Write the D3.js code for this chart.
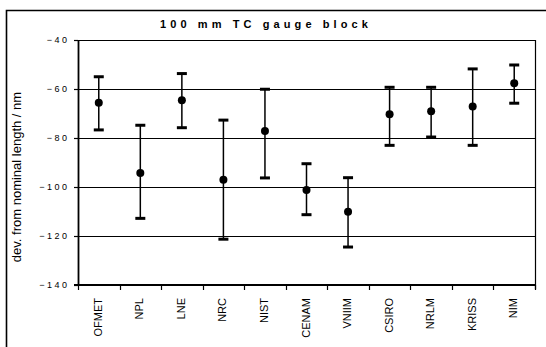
<!DOCTYPE html>
<html>
<head>
<meta charset="UTF-8">
<title>100 mm TC gauge block</title>
<script src="https://cdnjs.cloudflare.com/ajax/libs/d3/7.8.5/d3.min.js"></script>
<style>
    body { margin: 0; background: #fff; }
    text { font-family: Arial, "Liberation Sans", sans-serif; fill: #000; }
    .ylab text { font-size: 9px; letter-spacing: 2.5px; }
    .xlab { font-size: 11px; }
    .title { font-size: 11px; font-weight: bold; letter-spacing: 4.1px; }
    .ytitle { font-size: 13px; }
</style>
</head>
<body>
<div id="chart"></div>
<script>
    // labs and readings (nm), with the ends of each bar
    var labs = ["OFMET", "NPL", "LNE", "NRC", "NIST", "CENAM", "VNIIM", "CSIRO", "NRLM", "KRISS", "NIM"];
    var values = [-65.6, -94.3, -64.6, -97.0, -77.1, -101.2, -110.1, -70.3, -69.1, -67.1, -57.7];
    var upper = [-55.0, -74.8, -53.7, -72.7, -60.1, -90.5, -96.2, -59.3, -59.3, -51.8, -50.2];
    var lower = [-76.7, -112.8, -75.8, -121.3, -96.3, -111.3, -124.5, -83.0, -79.6, -83.0, -65.8];
    var yticks = [-140, -120, -100, -80, -60, -40];
    var grid = [-120, -100, -80, -60];

    var width = 546, height = 347;
    var pl = 78, pr = 535, pt = 40, pb = 285;

    var svg = d3.select("#chart").append("svg")
        .attr("width", width).attr("height", height);

    var x = d3.scaleBand().domain(labs).range([pl, pr]).padding(0);
    var y = d3.scaleLinear().domain([-140, -40]).range([pb, pt]);

    // outer frame (only top and left show)
    svg.append("path")
        .attr("d", "M6.5," + height + " V10.5 H" + width)
        .attr("fill", "none").attr("stroke", "#000").attr("stroke-width", 1.6);

    // gridlines
    svg.selectAll(".grid").data(grid).enter().append("line")
        .attr("class", "grid")
        .attr("x1", pl).attr("x2", pr)
        .attr("y1", function (d) { return Math.round(y(d)) + 0.5; })
        .attr("y2", function (d) { return Math.round(y(d)) + 0.5; })
        .attr("stroke", "#000").attr("stroke-width", 1);

    // plot border top + right
    svg.append("path")
        .attr("d", "M" + pl + "," + (pt + 0.5) + " H" + (pr + 0.5) + " V" + (pb + 4))
        .attr("fill", "none").attr("stroke", "#000").attr("stroke-width", 1.2);

    // y axis
    var yAxis = svg.append("g").attr("class", "ylab")
        .attr("transform", "translate(" + pl + ",0)")
        .call(d3.axisLeft(y).tickValues(yticks).tickSize(4).tickPadding(7).tickSizeOuter(0));
    yAxis.select(".domain").attr("stroke", "#000").attr("stroke-width", 1.8);
    yAxis.selectAll(".tick line").attr("stroke", "#000").attr("stroke-width", 1.2);
    yAxis.selectAll(".tick text").attr("fill", "#000").attr("dx", "2.5px")
        .style("font-family", "Arial, 'Liberation Sans', sans-serif");

    // x axis: ticks on category boundaries
    var bounds = labs.map(function (d) { return x(d); }).concat([pr]);
    svg.append("line")
        .attr("x1", pl - 4).attr("x2", pr)
        .attr("y1", pb).attr("y2", pb)
        .attr("stroke", "#000").attr("stroke-width", 1.8);
    svg.selectAll(".xtick").data(bounds).enter().append("line")
        .attr("class", "xtick")
        .attr("x1", function (d) { return Math.round(d) + 0.5; })
        .attr("x2", function (d) { return Math.round(d) + 0.5; })
        .attr("y1", pb).attr("y2", pb + 5)
        .attr("stroke", "#000").attr("stroke-width", 1.2);

    svg.selectAll(".xlab").data(labs).enter().append("text")
        .attr("class", "xlab")
        .attr("text-anchor", "end")
        .attr("transform", function (d) {
            return "translate(" + (x(d) + x.bandwidth() / 2 + 3) + "," + (pb + 13) + ") rotate(-90)";
        })
        .text(function (d) { return d; });

    // error bars
    var bars = svg.selectAll(".bar").data(labs).enter().append("g").attr("class", "bar");
    var cx = function (d) { return x(d) + x.bandwidth() / 2; };
    bars.append("line")
        .attr("x1", cx).attr("x2", cx)
        .attr("y1", function (d, i) { return y(upper[i]); })
        .attr("y2", function (d, i) { return y(lower[i]); })
        .attr("stroke", "#000").attr("stroke-width", 1.5);
    bars.append("line")
        .attr("x1", function (d) { return cx(d) - 5; }).attr("x2", function (d) { return cx(d) + 5; })
        .attr("y1", function (d, i) { return y(upper[i]); })
        .attr("y2", function (d, i) { return y(upper[i]); })
        .attr("stroke", "#000").attr("stroke-width", 3);
    bars.append("line")
        .attr("x1", function (d) { return cx(d) - 5; }).attr("x2", function (d) { return cx(d) + 5; })
        .attr("y1", function (d, i) { return y(lower[i]); })
        .attr("y2", function (d, i) { return y(lower[i]); })
        .attr("stroke", "#000").attr("stroke-width", 3);
    bars.append("circle")
        .attr("cx", cx)
        .attr("cy", function (d, i) { return y(values[i]); })
        .attr("r", 4).attr("fill", "#000");

    // titles
    svg.append("text").attr("class", "title")
        .attr("x", 266).attr("y", 28)
        .attr("text-anchor", "middle")
        .text("100 mm TC gauge block");

    svg.append("text").attr("class", "ytitle")
        .attr("text-anchor", "middle")
        .attr("transform", "translate(21,177) rotate(-90)")
        .text("dev. from nominal length / nm");
</script>
</body>
</html>
